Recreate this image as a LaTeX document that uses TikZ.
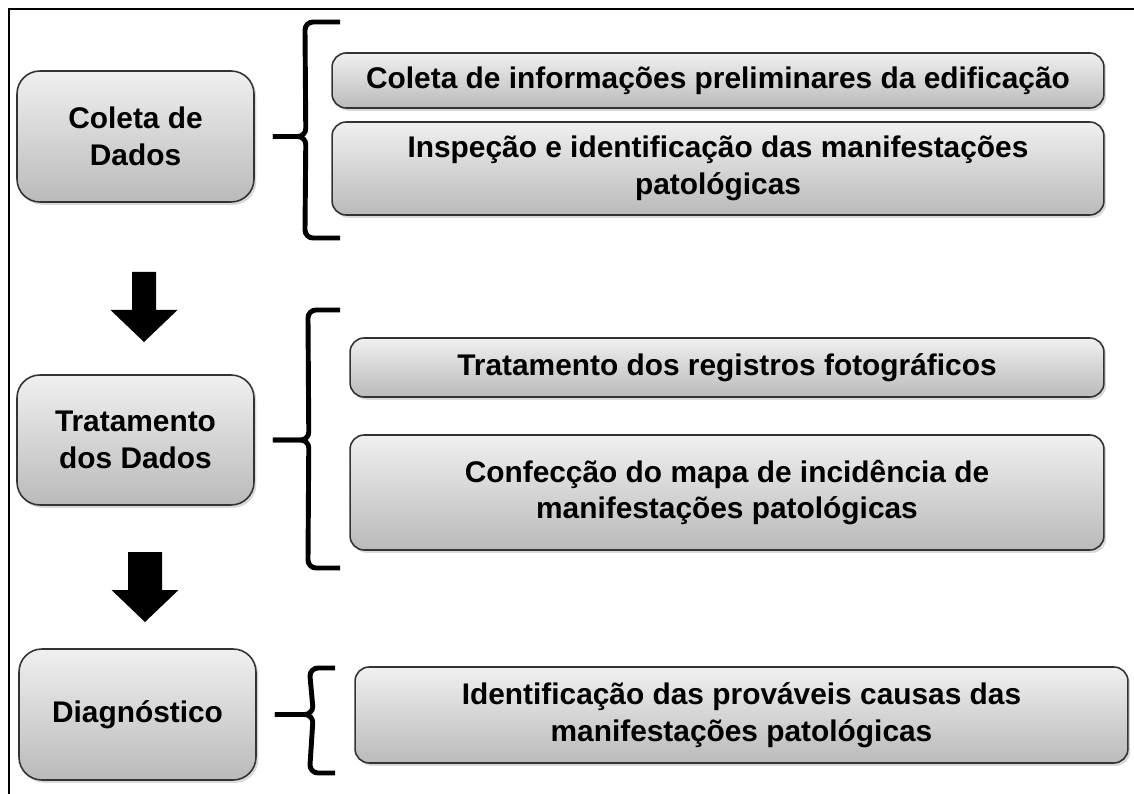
\documentclass[tikz,border=0pt]{standalone}
\usepackage{fontspec}
\setmainfont{Liberation Sans}
\usetikzlibrary{shadows,calc}

\begin{document}
\begin{tikzpicture}[x=0.02cm,y=-0.02cm,
	etapa/.style={draw=black!80, line width=0.9pt, rounded corners=13pt,
		top color=black!6, bottom color=black!27, align=center,
		font=\fontsize{17}{21}\selectfont\bfseries, inner sep=0pt,
		drop shadow={shadow xshift=1.3pt, shadow yshift=-1.6pt, opacity=0.3}},
	tarefa/.style={etapa, rounded corners=8pt},
	chave/.style={line width=2.8pt},
	seta/.style={fill=black}]
	\useasboundingbox (0,0) rectangle (1134,794);
	\draw[line width=1.1pt] (9,794) -- (9,9) -- (1134,9);

	% etapas
	\node[etapa, minimum width=4.74cm, minimum height=2.62cm] (coleta) at (135.5,136.5) {Coleta de\\Dados};
	\node[etapa, minimum width=4.74cm, minimum height=2.6cm] (tratamento) at (135.5,440) {Tratamento\\dos Dados};
	\node[etapa, minimum width=4.74cm, minimum height=2.62cm] (diag) at (137.5,714.5) {Diagnóstico};

	% tarefas
	\node[tarefa, minimum width=15.44cm, minimum height=1.1cm] (infoprel) at (718,80.5) {Coleta de informações preliminares da edificação};
	\node[tarefa, minimum width=15.44cm, minimum height=1.86cm] (inspecao) at (718,168.5) {Inspeção e identificação das manifestações\\patológicas};
	\node[tarefa, minimum width=15.08cm, minimum height=1.18cm] (registros) at (727,367.5) {Tratamento dos registros fotográficos};
	\node[tarefa, minimum width=15.08cm, minimum height=2.3cm] (mapa) at (727,492.5) {Confecção do mapa de incidência de\\manifestações patológicas};
	\node[tarefa, minimum width=15.46cm, minimum height=1.92cm] (causas) at (741.5,715) {Identificação das prováveis causas das\\manifestações patológicas};

	% chaves
	\foreach \n/\t/\b/\v/\e in {coleta/22/238/305/340, tratamento/310/568/308/340, diag/668/773/310/335} {
		\draw[chave] ([xshift=0.36cm]\n.east) coordinate (tip\n) -- ++(\v-280,0) to[out=0,in=-90] ++(8,-8)
			-- (\v,\t+8) to[out=90,in=180] (\v+8,\t) -- (\e,\t);
		\draw[chave] (tip\n) -- ++(\v-280,0) to[out=0,in=90] ++(8,8)
			-- (\v,\b-8) to[out=-90,in=180] (\v+8,\b) -- (\e,\b);
	}

	% setas
	\foreach \cx/\yt/\sw in {144/272/12, 145/552/17}
		\fill[seta] (\cx-\sw,\yt) -- (\cx+\sw,\yt) -- (\cx+\sw,\yt+38) -- (\cx+33.5,\yt+38)
			-- (\cx,\yt+70) -- (\cx-33.5,\yt+38) -- (\cx-\sw,\yt+38) -- cycle;
\end{tikzpicture}
\end{document}
